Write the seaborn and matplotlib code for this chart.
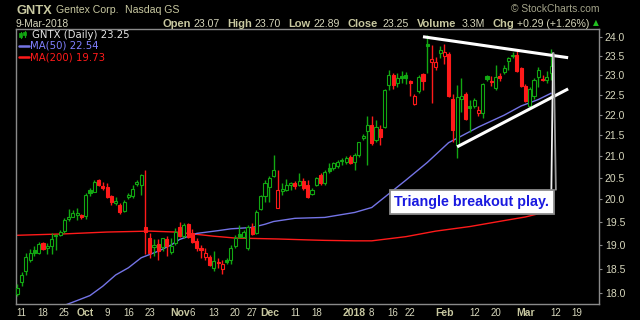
import numpy as np
import pandas as pd
import matplotlib
matplotlib.use("Agg")
import matplotlib.pyplot as plt
import seaborn as sns
from matplotlib.patches import Rectangle
from matplotlib.lines import Line2D
from matplotlib.ticker import FixedLocator, NullLocator, FixedFormatter, FuncFormatter

# ---------------- data ----------------
first_day = "2017-09-08"
last_axis_day = "2018-03-23"
holidays = ["2017-11-23", "2017-12-25", "2018-01-01", "2018-01-15", "2018-02-19"]

opens = [17.98, 18.23, 18.46, 18.69, 18.90, 18.84, 19.04, 18.93, 18.97, 19.19,
         19.22, 19.30, 19.57, 19.62, 19.66, 19.65, 19.63, 20.21, 20.17, 20.44,
         20.30, 20.29, 20.07, 19.93, 19.88, 19.75, 20.05, 20.07, 20.35, 20.33,
         19.39, 19.15, 18.96, 19.03, 18.96, 19.13, 18.85, 19.05, 19.40, 19.20,
         19.46, 19.26, 19.09, 18.93, 18.74, 18.74, 18.52, 18.64, 18.49, 18.69,
         18.69, 18.97, 19.24, 19.18, 18.93, 19.38, 19.26, 19.79, 20.07, 20.29,
         20.54, 19.81, 20.19, 20.21, 20.33, 20.38, 20.33, 20.42, 20.33, 20.12,
         20.33, 20.56, 20.38, 20.71, 20.71, 20.76, 20.88, 20.87, 20.98, 20.85,
         21.02, 21.43, 21.61, 21.74, 21.38, 21.66, 21.69, 22.75, 23.00, 22.80,
         22.97, 23.00, 22.85, 22.28, 22.60, 23.03, 23.82, 23.35, 23.22, 23.58,
         23.51, 23.55, 22.39, 21.26, 22.40, 22.51, 22.22, 22.21, 22.05, 22.05,
         22.97, 22.86, 22.68, 22.97, 23.08, 23.37, 23.50, 23.54, 23.18, 22.73,
         22.23, 22.47, 22.95, 22.91, 22.89, 23.07]
highs = [18.19, 18.44, 18.82, 18.91, 18.97, 19.07, 19.06, 19.04, 19.26, 19.23,
         19.33, 19.59, 19.78, 19.77, 19.80, 19.68, 20.14, 20.26, 20.44, 20.46,
         20.40, 20.37, 20.10, 20.05, 19.92, 19.99, 20.14, 20.33, 20.44, 20.58,
         20.67, 19.25, 19.12, 19.12, 19.16, 19.19, 19.15, 19.37, 19.51, 19.48,
         19.48, 19.35, 19.15, 19.01, 18.94, 18.78, 18.87, 18.73, 18.69, 18.73,
         19.01, 19.22, 19.44, 19.33, 19.44, 19.48, 19.77, 20.10, 20.44, 20.54,
         21.02, 20.68, 20.37, 20.46, 20.40, 20.42, 20.60, 20.48, 20.44, 20.25,
         20.52, 20.60, 20.67, 20.83, 20.87, 20.91, 20.95, 21.00, 21.02, 21.07,
         21.33, 21.53, 21.97, 21.96, 21.86, 21.75, 22.65, 23.13, 23.07, 23.05,
         23.10, 23.08, 22.88, 22.53, 23.00, 23.07, 24.06, 23.79, 23.49, 23.77,
         23.82, 23.62, 22.53, 22.75, 22.93, 22.57, 22.37, 22.41, 22.21, 22.80,
         23.02, 22.97, 23.27, 23.05, 23.27, 23.48, 23.62, 23.68, 23.22, 22.77,
         22.70, 22.92, 23.22, 23.02, 23.11, 23.70]
lows = [17.94, 18.15, 18.38, 18.64, 18.77, 18.80, 18.89, 18.80, 18.80, 18.89,
        19.19, 19.26, 19.52, 19.60, 19.55, 19.57, 19.57, 20.07, 20.16, 20.31,
        20.22, 20.03, 19.88, 19.88, 19.68, 19.73, 20.01, 20.03, 20.30, 20.10,
        18.80, 18.73, 18.77, 18.68, 18.87, 18.77, 18.80, 19.01, 19.17, 19.15,
        19.15, 19.04, 18.87, 18.73, 18.69, 18.56, 18.45, 18.52, 18.40, 18.60,
        18.59, 18.94, 19.15, 19.15, 18.90, 19.22, 19.24, 19.77, 19.95, 19.95,
        20.52, 19.81, 20.10, 20.19, 20.22, 20.24, 20.30, 20.22, 20.03, 20.10,
        20.30, 20.33, 20.33, 20.60, 20.67, 20.73, 20.80, 20.82, 20.81, 20.67,
        20.99, 21.38, 20.79, 21.26, 21.34, 21.26, 21.68, 22.62, 22.65, 22.70,
        22.80, 22.78, 22.46, 22.24, 22.55, 22.62, 23.07, 22.29, 23.15, 23.45,
        23.30, 22.44, 21.33, 20.96, 22.06, 21.88, 21.58, 22.16, 21.96, 21.93,
        22.86, 22.73, 22.62, 22.85, 23.04, 23.13, 23.46, 23.08, 22.70, 22.31,
        22.18, 22.40, 22.70, 22.86, 22.79, 22.89]
closes = [18.10, 18.38, 18.74, 18.82, 18.84, 19.02, 18.92, 18.97, 19.14, 19.21,
          19.29, 19.55, 19.62, 19.70, 19.70, 19.60, 20.10, 20.14, 20.40, 20.33,
          20.27, 20.05, 19.94, 19.96, 19.73, 19.95, 20.10, 20.24, 20.40, 20.56,
          19.27, 18.83, 19.01, 18.87, 19.15, 18.97, 18.98, 19.29, 19.20, 19.44,
          19.17, 19.07, 18.93, 18.90, 18.83, 18.58, 18.66, 18.61, 18.59, 18.64,
          18.93, 19.15, 19.17, 19.27, 19.40, 19.24, 19.73, 20.07, 20.37, 20.48,
          20.67, 20.22, 20.23, 20.33, 20.37, 20.31, 20.42, 20.25, 20.05, 20.22,
          20.48, 20.38, 20.62, 20.64, 20.83, 20.85, 20.91, 20.96, 20.84, 21.02,
          21.33, 21.47, 21.76, 21.31, 21.70, 21.46, 22.62, 23.00, 22.76, 22.92,
          22.93, 22.93, 22.79, 22.46, 22.95, 22.86, 23.76, 23.42, 23.35, 23.66,
          23.62, 22.47, 21.62, 22.44, 22.46, 21.90, 22.16, 22.37, 22.13, 22.77,
          22.91, 22.83, 22.95, 22.94, 23.18, 23.44, 23.54, 23.11, 22.72, 22.34,
          22.66, 22.87, 23.15, 22.88, 22.96, 23.25]

ma50_dates = ["2017-09-22", "2017-09-28", "2017-10-03", "2017-10-06", "2017-10-11",
              "2017-10-16", "2017-10-19", "2017-10-25", "2017-10-30", "2017-11-01",
              "2017-11-07", "2017-11-14", "2017-11-17", "2017-11-27", "2017-11-30",
              "2017-12-04", "2017-12-11", "2017-12-20", "2018-01-02", "2018-01-08",
              "2018-01-11", "2018-01-19", "2018-01-26", "2018-02-02", "2018-02-07",
              "2018-02-13", "2018-02-22", "2018-02-28", "2018-03-06", "2018-03-09"]
ma50 = [17.72, 17.85, 17.95, 18.14, 18.37, 18.52, 18.73, 18.87, 19.00, 19.12,
        19.25, 19.31, 19.35, 19.38, 19.45, 19.51, 19.58, 19.60, 19.71, 19.82,
        20.05, 20.44, 20.85, 21.32, 21.48, 21.70, 21.99, 22.22, 22.38, 22.54]

ma200_dates = ["2017-09-08", "2017-09-25", "2017-10-09", "2017-10-23", "2017-10-31",
               "2017-11-06", "2017-11-13", "2017-11-20", "2017-12-05", "2017-12-14",
               "2017-12-20", "2018-01-02", "2018-01-08", "2018-01-19", "2018-01-30",
               "2018-02-09", "2018-02-22", "2018-03-01", "2018-03-06", "2018-03-09"]
ma200 = [19.21, 19.24, 19.28, 19.30, 19.28, 19.24, 19.19, 19.15, 19.13, 19.11,
         19.10, 19.09, 19.09, 19.18, 19.30, 19.40, 19.53, 19.61, 19.68, 19.73]

tick_dates = ["2017-09-11", "2017-09-18", "2017-09-25", "2017-10-02", "2017-10-09",
              "2017-10-16", "2017-10-23", "2017-11-01", "2017-11-06", "2017-11-13",
              "2017-11-20", "2017-11-27", "2017-12-01", "2017-12-11", "2017-12-18",
              "2018-01-02", "2018-01-08", "2018-01-16", "2018-01-22", "2018-02-01",
              "2018-02-12", "2018-02-20", "2018-03-01", "2018-03-12", "2018-03-19"]
tick_labels = ["11", "18", "25", "Oct", "9", "16", "23", "Nov", "6", "13", "20", "27",
               "Dec", "11", "18", "2018", "8", "16", "22", "Feb", "12", "20", "Mar",
               "12", "19"]
price_ticks = [18.0, 18.5, 19.0, 19.5, 20.0, 20.5, 21.0, 21.5, 22.0, 22.5, 23.0, 23.5, 24.0]

# trendlines drawn on the chart (date, price)
upper_line_dates = ["2018-01-25", "2018-03-15"]
upper_line_prices = [24.02, 23.46]
lower_line_dates = ["2018-02-06", "2018-03-15"]
lower_line_prices = [21.22, 22.65]

symbol, company, exchange, date_str = "GNTX", "Gentex Corp.", "Nasdaq GS", "9-Mar-2018"
volume_str, chg_str = "3.3M", "+0.29 (+1.26%)"
note_text = "Triangle breakout play."

# ---------------- trading calendar ----------------
cal = pd.bdate_range(first_day, last_axis_day)
cal = cal[~cal.isin(pd.to_datetime(holidays))]
pos = {d: i for i, d in enumerate(cal)}
def P(d):
    return pos[pd.Timestamp(d)]

n = len(closes)
x = np.arange(n)

# ---------------- style ----------------
sns.set_theme(style="dark")
plt.rcParams["font.family"] = ["Liberation Sans", "DejaVu Sans"]
BG = "black"
KH = "#c8c8a0"
KH2 = "#d6d6bc"
GRAY = "#8a8a8a"
GREEN = "#12a812"
RED = "#ff1a1a"
BLUE = "#7474e6"

fig = plt.figure(figsize=(6.4, 3.2), dpi=100, facecolor=BG)
W, H = 640.0, 320.0
ax = fig.add_axes([16.3 / W, 16 / H, (599.3 - 16.3) / W, (304 - 29) / H])
ax.set_facecolor(BG)

# moving averages via seaborn
df50 = pd.DataFrame({"x": [P(d) for d in ma50_dates], "v": ma50})
df200 = pd.DataFrame({"x": [P(d) for d in ma200_dates], "v": ma200})
sns.lineplot(data=df200, x="x", y="v", ax=ax, color=RED, lw=1.0, zorder=2)
sns.lineplot(data=df50, x="x", y="v", ax=ax, color=BLUE, lw=1.0, zorder=2)

# candlesticks
bw = 0.72
for i in range(n):
    o, h, l, c = opens[i], highs[i], lows[i], closes[i]
    prev = closes[i - 1] if i > 0 else o
    col = GREEN if c >= prev else RED
    ax.vlines(x[i], l, h, color=col, lw=1.0, zorder=3)
    lo, hi = min(o, c), max(o, c)
    if hi - lo < 0.012:
        hi = lo + 0.012
    filled = c < o
    ax.add_patch(Rectangle((x[i] - bw / 2, lo), bw, hi - lo,
                           facecolor=col if filled else BG, edgecolor=col,
                           lw=0.8, zorder=4))

# trendlines
ax.plot([P(d) for d in upper_line_dates], upper_line_prices, color="white", lw=2.2,
        solid_capstyle="butt", zorder=5)
ax.plot([P(d) for d in lower_line_dates], lower_line_prices, color="white", lw=2.2,
        solid_capstyle="butt", zorder=5)

ax.set_yscale("log")
ax.set_ylim(17.78, 24.23)
ax.set_xlim(-0.26, 136.3)

# callout pointer and box
last = P("2018-03-09")
ax.plot([last + 0.07, last + 0.47], [20.22, 23.58], color="#f0f0f0", lw=1.3, zorder=6)
ax.plot([last + 1.13, last + 0.61], [20.22, 23.58], color="#9a9a9a", lw=1.3, zorder=6)
ax.text(0.781, 0.371, note_text, transform=ax.transAxes, ha="center", va="center",
        fontsize=10.3, fontweight="bold", color="#1a1ae0", zorder=8,
        bbox=dict(boxstyle="square,pad=0.32", fc="white", ec="#8c8c8c", lw=1.3))

# axes styling
for s in ax.spines.values():
    s.set_color(GRAY)
    s.set_linewidth(1.0)
ax.yaxis.tick_right()
ax.yaxis.set_major_locator(FixedLocator(price_ticks))
ax.yaxis.set_minor_locator(NullLocator())
ax.yaxis.set_major_formatter(FuncFormatter(lambda v, p: f"{v:.1f}"))
ax.tick_params(axis="y", which="major", direction="out", length=2.5, width=0.8,
               colors=GRAY, labelcolor=KH2, labelsize=7.5, pad=1.5)
ax.set_ylabel("")
ax.set_xlabel("")

ax.xaxis.set_major_locator(FixedLocator([P(d) for d in tick_dates]))
ax.xaxis.set_major_formatter(FixedFormatter(tick_labels))
ax.xaxis.set_minor_locator(FixedLocator(np.arange(0, len(cal))))
ax.tick_params(axis="x", which="major", direction="in", length=3, width=0.8,
               colors=GRAY, labelcolor=KH2, labelsize=7, pad=3)
ax.tick_params(axis="x", which="minor", direction="in", length=1.6, width=0.6,
               colors=GRAY)
for t, lab in zip(ax.get_xticklabels(), tick_labels):
    if not lab.isdigit() or len(lab) == 4:
        t.set_fontweight("bold")
        t.set_color(KH)
        t.set_fontsize(7.5)
ax.grid(False)

# ---------------- header texts ----------------
def fx(px):
    return px / W
def fy(py):
    return 1 - py / H

fig.text(fx(16.7), fy(14), symbol, fontsize=9.3, fontweight="bold", color=KH, va="baseline")
fig.text(fx(56), fy(12.6), company, fontsize=7.6, color=KH, va="baseline")
fig.text(fx(124.7), fy(12.6), exchange, fontsize=7.6, color=KH, va="baseline")
fig.text(fx(16), fy(26.6), date_str, fontsize=7.4, color=KH2, va="baseline")

header = [("Open", True, 162.7), (f"{opens[-1]:.2f}", False, 193.3),
          ("High", True, 227.7), (f"{highs[-1]:.2f}", False, 254.7),
          ("Low", True, 288.6), (f"{lows[-1]:.2f}", False, 313.0),
          ("Close", True, 348.0), (f"{closes[-1]:.2f}", False, 382.5),
          ("Volume", True, 416.5), (volume_str, False, 461.7),
          ("Chg", True, 492.3), (chg_str, False, 516.7)]
for txt, bold, px in header:
    fig.text(fx(px), fy(26.6), txt, fontsize=8.0 if bold else 7.6,
             fontweight="bold" if bold else "normal", color=KH if bold else KH2,
             va="baseline")
fig.text(fx(595.7), fy(22.6), "\u25B2", fontsize=5.5, color="#20c020", ha="center",
         va="center", family="DejaVu Sans")
fig.text(fx(599.3), fy(12.4), "\u00A9 StockCharts.com", fontsize=7.4, color="#a4a48a",
         ha="right", va="baseline")

# ---------------- legend ----------------
# candle icon
for cx, y0, y1, b0, b1 in [(20.5, 31.5, 38.0, 33.0, 36.5), (24.5, 30.5, 37.0, 32.0, 35.0)]:
    fig.add_artist(Line2D([fx(cx), fx(cx)], [fy(y1), fy(y0)], color=GREEN, lw=0.9))
    fig.add_artist(Rectangle((fx(cx - 1.2), fy(b1)), 2.4 / W, (b1 - b0) / H,
                             facecolor=GREEN, edgecolor=GREEN, lw=0.5,
                             transform=fig.transFigure))
fig.text(fx(31.5), fy(35.2), f"{symbol} (Daily) {closes[-1]:.2f}", fontsize=7.3,
         color="#e4e4e4", va="center", family="DejaVu Sans")
fig.add_artist(Line2D([fx(19.3), fx(29.3)], [fy(45.7), fy(45.7)], color=BLUE, lw=1.8))
fig.text(fx(30.0), fy(45.9), f"MA(50) {ma50[-1]:.2f}", fontsize=7.3, color="#8080ff",
         va="center", family="DejaVu Sans")
fig.add_artist(Line2D([fx(19.3), fx(29.3)], [fy(57.3), fy(57.3)], color=RED, lw=1.8))
fig.text(fx(30.0), fy(57.5), f"MA(200) {ma200[-1]:.2f}", fontsize=7.3, color=RED,
         va="center", family="DejaVu Sans")

fig.savefig("out.png", dpi=100, facecolor=BG)
